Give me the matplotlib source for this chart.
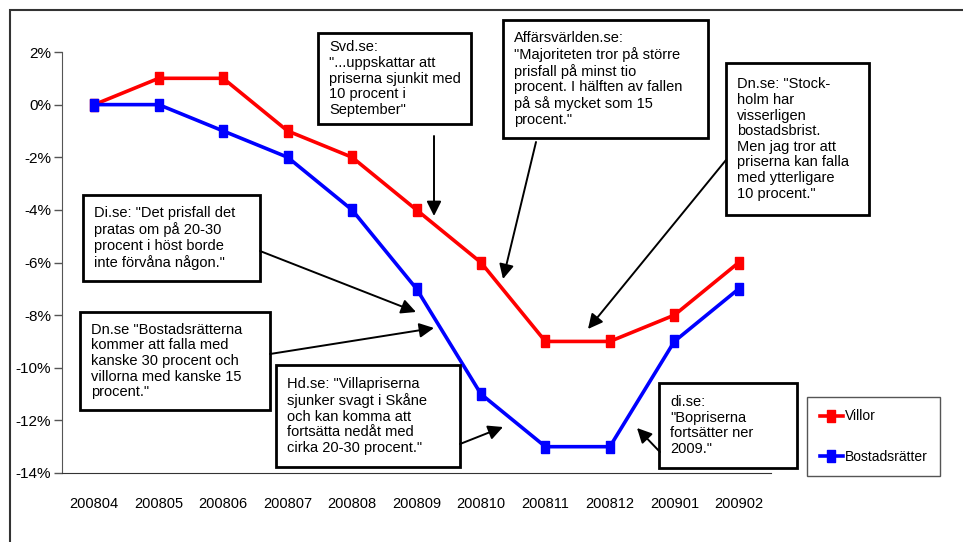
import matplotlib
matplotlib.use('agg')
import matplotlib.pyplot as plt
from matplotlib.patches import Rectangle, FancyArrowPatch

# Price change per month (percent)
months = ['200804', '200805', '200806', '200807', '200808', '200809',
          '200810', '200811', '200812', '200901', '200902']
villor = [0, 1, 1, -1, -2, -4, -6, -9, -9, -8, -6]
bostadsratter = [0, 0, -1, -2, -4, -7, -11, -13, -13, -9, -7]
yticks = [2, 0, -2, -4, -6, -8, -10, -12, -14]

quotes = [
    'Svd.se:\n"...uppskattar att\npriserna sjunkit med\n10 procent i\nSeptember"',
    'Affärsvärlden.se:\n"Majoriteten tror på större\nprisfall på minst tio\n'
    'procent. I hälften av fallen\npå så mycket som 15\nprocent."',
    'Dn.se: "Stock-\nholm har\nvisserligen\nbostadsbrist.\nMen jag tror att\n'
    'priserna kan falla\nmed ytterligare\n10 procent."',
    'Di.se: "Det prisfall det\npratas om på 20-30\nprocent i höst borde\ninte förvåna någon."',
    'Dn.se "Bostadsrätterna\nkommer att falla med\nkanske 30 procent och\n'
    'villorna med kanske 15\nprocent."',
    'Hd.se: "Villapriserna\nsjunker svagt i Skåne\noch kan komma att\n'
    'fortsätta nedåt med\ncirka 20-30 procent."',
    'di.se:\n"Bopriserna\nfortsätter ner\n2009."',
]

W, H = 963, 542
def fx(x):
    return x / W
def fy(y):
    return 1 - y / H

# box (left, top, right, bottom) in pixels, arrow tail -> head
boxes = [(318, 33, 471, 124), (503, 20, 708, 138), (726, 63, 869, 215),
         (83, 195, 260, 281), (80, 312, 270, 410), (276, 365, 460, 467),
         (659, 383, 797, 468)]
arrows = [((434, 136), (434, 216)), ((536, 142), (503, 279)),
          ((726, 160), (588, 329)), ((260, 251), (416, 312)),
          ((270, 354), (434, 328)), ((460, 444), (503, 427)),
          ((660, 452), (637, 428))]

tick_font = ['Liberation Sans Narrow', 'Liberation Sans']
box_font = ['Liberation Sans', 'DejaVu Sans']

fig = plt.figure(figsize=(9.63, 5.42), dpi=100)

# outer frame
fig.add_artist(Rectangle((fx(10), -0.2), 1.5, fy(10) + 0.2, transform=fig.transFigure,
                         fill=False, edgecolor='#333333', lw=1.5))

ax = fig.add_axes([fx(62), fy(473), fx(771) - fx(62), fy(52) - fy(473)])
x = range(len(months))
mark = [(-0.3, -0.5), (0.3, -0.5), (0.3, 0.5), (-0.3, 0.5), (-0.3, -0.5)]
ax.plot(x, villor, color='#ff0000', lw=2.6, marker=mark, ms=9, label='Villor')
ax.plot(x, bostadsratter, color='#0000ff', lw=2.6, marker=mark, ms=9, label='Bostadsrätter')

ax.set_xlim(-0.5, len(months) - 0.5)
ax.set_ylim(-14, 2)
ax.set_xticks(list(x))
ax.set_xticklabels(months, family=tick_font, fontsize=10.5)
ax.set_yticks(yticks)
ax.set_yticklabels([f'{v}%' for v in yticks], family=tick_font, fontsize=11)
ax.tick_params(axis='x', length=0, pad=17)
ax.tick_params(axis='y', length=6, width=1, direction='out', pad=2, color='#555555')
for s in ['top', 'right']:
    ax.spines[s].set_visible(False)
ax.spines['left'].set_color('#555555')
ax.spines['bottom'].set_color('#333333')

for (x0, y0, x1, y1), txt in zip(boxes, quotes):
    fig.add_artist(Rectangle((fx(x0), fy(y1)), fx(x1) - fx(x0), fy(y0) - fy(y1),
                             transform=fig.transFigure, facecolor='white',
                             edgecolor='black', lw=2, zorder=3))
    fig.text(fx(x0 + 11), fy((y0 + y1) / 2), txt, ha='left', va='center',
             fontsize=10.5, family=box_font, linespacing=1.15, zorder=4)

for tail, head in arrows:
    fig.add_artist(FancyArrowPatch((fx(tail[0]), fy(tail[1])), (fx(head[0]), fy(head[1])),
                                   transform=fig.transFigure, arrowstyle='-|>',
                                   mutation_scale=22, lw=1.4, color='black',
                                   shrinkA=0, shrinkB=0, zorder=5))

leg = fig.legend(loc='upper left', bbox_to_anchor=(fx(807), fy(397)),
                 borderaxespad=0, frameon=True, fancybox=False,
                 edgecolor='#555555', framealpha=1,
                 prop={'family': tick_font, 'size': 10}, borderpad=0.9,
                 labelspacing=1.9, handlelength=1.7, handletextpad=0.1)
leg.get_frame().set_linewidth(1)

plt.savefig('out.png', dpi=100)
